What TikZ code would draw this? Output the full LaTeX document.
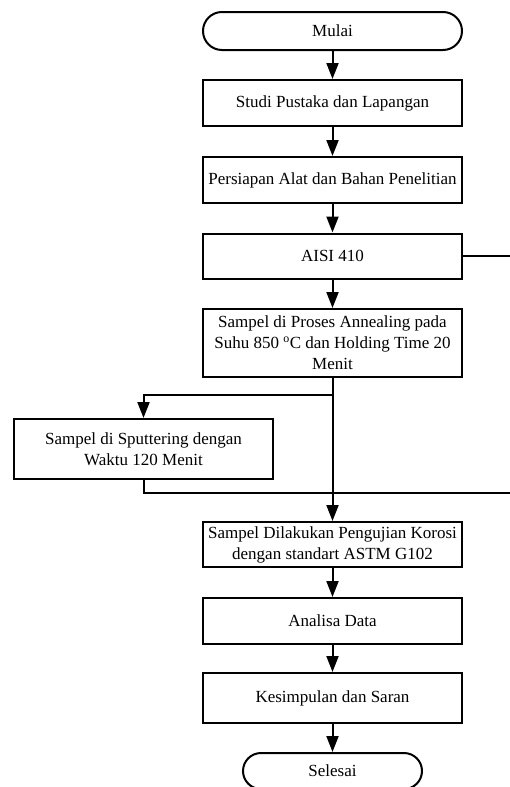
\documentclass[tikz,border=0pt]{standalone}
\usepackage{fontspec}
\setmainfont{Liberation Serif}
\usetikzlibrary{arrows.meta, positioning, shapes}

\tikzset{
	box/.style={draw, line width=2pt, minimum width=259pt, inner sep=0pt, align=center, font=\fontsize{17}{21}\selectfont},
	terminal/.style={box, rounded rectangle},
	flow/.style={line width=2pt, -{Triangle[width=12pt, length=16pt]}},
	plain/.style={line width=2pt}
}

\begin{document}
\begin{tikzpicture}[x=1pt, y=-1pt]

\useasboundingbox (0,0) rectangle (509,787);

\def \xc{332.5} % x of the main column

\node[terminal, minimum height=38pt]                   (mulai)     at (\xc, 31)    {Mulai};
\node[box, minimum height=46pt]                        (studi)     at (\xc, 103)   {Studi Pustaka dan Lapangan};
\node[box, minimum height=46pt]                        (persiapan) at (\xc, 180)   {Persiapan Alat dan Bahan Penelitian};
\node[box, minimum height=45pt]                        (aisi)      at (\xc, 256)   {AISI 410};
\node[box, minimum height=68pt]                        (anneal)    at (\xc, 343)   {Sampel di Proses Annealing pada\\Suhu 850 \textsuperscript{o}C dan Holding Time 20\\Menit};
\node[box, minimum height=60pt]                        (sputter)   at (143.5, 449) {Sampel di Sputtering dengan\\Waktu 120 Menit};
\node[box, minimum height=45pt]                        (korosi)    at (\xc, 544.5) {Sampel Dilakukan Pengujian Korosi\\dengan standart ASTM G102};
\node[box, minimum height=46pt]                        (analisa)   at (\xc, 621)   {Analisa Data};
\node[box, minimum height=50pt]                        (simpul)    at (\xc, 698)   {Kesimpulan dan Saran};
\node[terminal, minimum width=179pt, minimum height=36pt] (selesai) at (\xc, 771)   {Selesai};

\coordinate (split) at (\xc, 395); % branch to sputtering
\coordinate (join)  at (\xc, 493); % both paths meet
\coordinate (loop)  at (520, 256); % right side, off the page

\draw[flow] (mulai) -- (studi);
\draw[flow] (studi) -- (persiapan);
\draw[flow] (persiapan) -- (aisi);
\draw[flow] (aisi) -- (anneal);
\draw[flow] (anneal) -- (korosi);
\draw[flow] (split) -| (sputter);
\draw[plain] (sputter) |- (join);
\draw[plain] (aisi) -- (loop) |- (join);
\draw[flow] (korosi) -- (analisa);
\draw[flow] (analisa) -- (simpul);
\draw[flow] (simpul) -- (selesai);

\end{tikzpicture}
\end{document}
